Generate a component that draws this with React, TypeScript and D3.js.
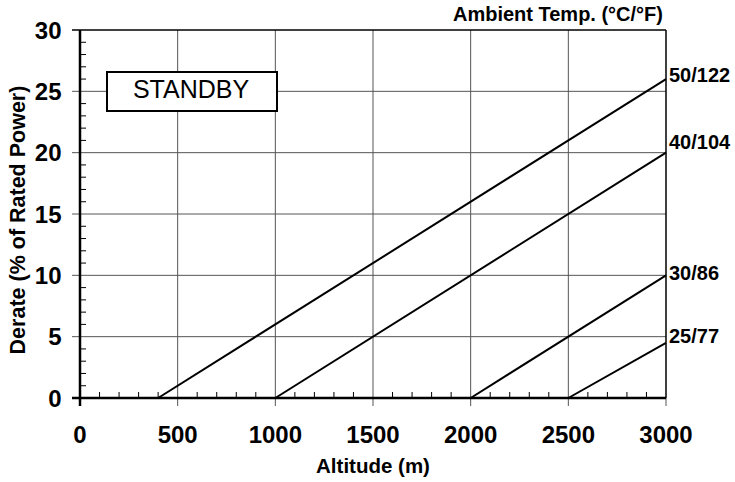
import React from "react";
import * as d3 from "d3";

// Altitude (m) ticks and derate ticks
const xTicks = [0, 500, 1000, 1500, 2000, 2500, 3000];
const yTicks = [0, 5, 10, 15, 20, 25, 30];

// Ambient temperature series: [altitude, derate]
const seriesNames = ["50/122", "40/104", "30/86", "25/77"];
const seriesStart = [[400, 0], [1000, 0], [2000, 0], [2500, 0]];
const seriesEnd = [[3000, 26], [3000, 20], [3000, 10], [3000, 4.5]];
const labelY = [25.8, 20.3, 9.6, 4.5];

const W = 735;
const H = 482;
const M = { left: 80, right: 69, top: 30, bottom: 84 };
const FONT = "Arial, 'Liberation Sans', Helvetica, sans-serif";

export default function App() {
  const x = d3.scaleLinear().domain([0, 3000]).range([M.left, W - M.right]);
  const y = d3.scaleLinear().domain([0, 30]).range([H - M.bottom, M.top]);
  const line = d3
    .line<number[]>()
    .x((d) => x(d[0]))
    .y((d) => y(d[1]));

  const minorX = d3.range(0, 3001, 100).filter((v) => v % 500 !== 0);
  const minorY = d3.range(0, 31, 1).filter((v) => v % 5 !== 0);
  const x0 = x(0), x1 = x(3000), yb = y(0), yt = y(30);
  const grid = "#555";

  return (
    <svg
      width={W}
      height={H}
      style={{ position: "absolute", left: 0, top: 0, background: "#fff" }}
      fontFamily={FONT}
    >
      {/* grid */}
      {xTicks.slice(1, -1).map((v) => (
        <line key={"gx" + v} x1={x(v)} x2={x(v)} y1={yt} y2={yb + 8} stroke={grid} strokeWidth={1} />
      ))}
      {yTicks.slice(1, -1).map((v) => (
        <line key={"gy" + v} x1={x0 - 8} x2={x1} y1={y(v)} y2={y(v)} stroke={grid} strokeWidth={1} />
      ))}
      {/* major ticks at ends */}
      <line x1={x1} x2={x1} y1={yb} y2={yb + 8} stroke={grid} strokeWidth={1} />
      {/* minor ticks */}
      {minorX.map((v) => (
        <line key={"mx" + v} x1={x(v)} x2={x(v)} y1={yb} y2={yb - 6} stroke="#000" strokeWidth={1} />
      ))}
      {minorY.map((v) => (
        <line key={"my" + v} x1={x0} x2={x0 + 6} y1={y(v)} y2={y(v)} stroke="#000" strokeWidth={1} />
      ))}
      {/* border */}
      <line x1={x0 - 8} x2={x1} y1={yt} y2={yt} stroke="#000" strokeWidth={1.5} />
      <line x1={x1} x2={x1} y1={yt} y2={yb} stroke="#000" strokeWidth={1.5} />
      <line x1={x0 - 8} x2={x1} y1={yb} y2={yb} stroke="#000" strokeWidth={2.5} />
      <line x1={x0} x2={x0} y1={yt} y2={yb + 8} stroke="#000" strokeWidth={2.5} />

      {/* STANDBY box */}
      <rect x={107} y={72} width={170} height={39} fill="#fff" stroke="#000" strokeWidth={2} />
      <text x={191} y={97.5} textAnchor="middle" fontSize={25} fill="#000">
        STANDBY
      </text>

      {/* series */}
      {seriesNames.map((n, i) => (
        <path key={n} d={line([seriesStart[i], seriesEnd[i]]) || ""} fill="none" stroke="#000" strokeWidth={2} />
      ))}
      {seriesNames.map((n, i) => (
        <text key={"l" + n} x={x1 + 3} y={y(labelY[i])} fontSize={20} fontWeight="bold" fill="#000">
          {n}
        </text>
      ))}

      {/* tick labels */}
      {xTicks.map((v) => (
        <text key={"tx" + v} x={x(v)} y={yb + 45} textAnchor="middle" fontSize={24} fontWeight="bold" fill="#000">
          {v}
        </text>
      ))}
      {yTicks.map((v) => (
        <text key={"ty" + v} x={61.5} y={y(v) + 8.6} textAnchor="end" fontSize={24} fontWeight="bold" fill="#000">
          {v}
        </text>
      ))}

      {/* titles */}
      <text x={(x0 + x1) / 2} y={473} textAnchor="middle" fontSize={20.5} fontWeight="bold" fill="#000">
        Altitude (m)
      </text>
      <text
        transform={`translate(25, 220) rotate(-90)`}
        textAnchor="middle"
        fontSize={21.5}
        fontWeight="bold"
        fill="#000"
      >
        Derate (% of Rated Power)
      </text>
      <text x={663} y={21} textAnchor="end" fontSize={20} fontWeight="bold" fill="#000">
        Ambient Temp. (°C/°F)
      </text>
    </svg>
  );
}
